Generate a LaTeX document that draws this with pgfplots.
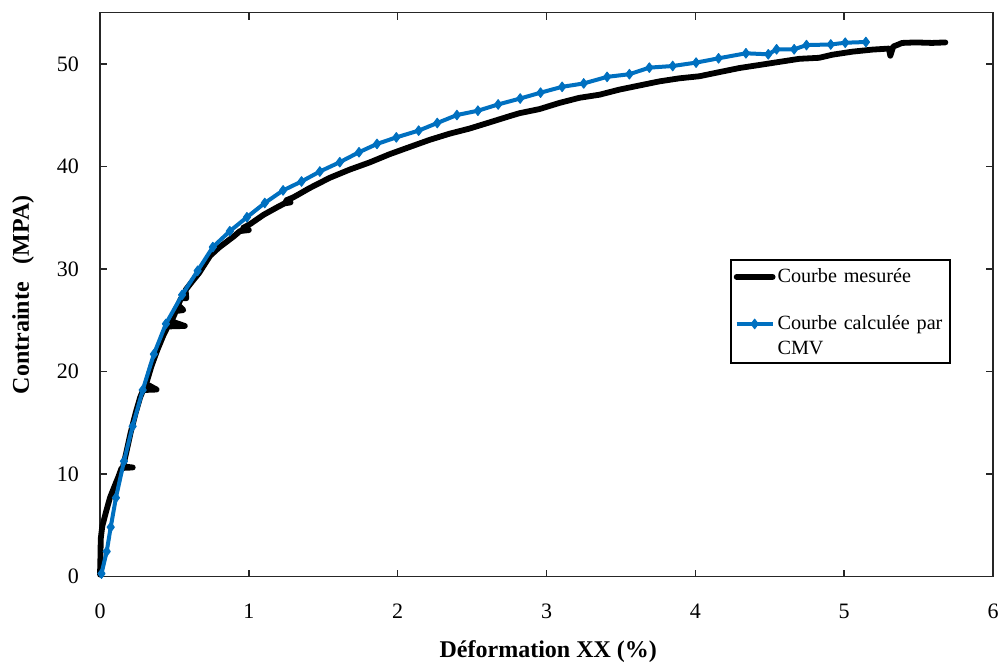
\documentclass[border=0pt]{standalone}
\usepackage{pgfplots}
\pgfplotsset{compat=1.18}
\usepackage{fontspec}
\setmainfont{Liberation Serif}
\definecolor{cmvblue}{RGB}{0,112,192}
\begin{document}
\begin{tikzpicture}
\begin{axis}[
 scale only axis, width=446.5pt, height=282pt,
 xmin=0, xmax=6, ymin=0, ymax=55,
 xtick={0,1,2,3,4,5,6}, ytick={0,10,20,30,40,50},
 tick align=inside, major tick length=3.5pt,
 axis line style={black!85, line width=0.8pt},
 every tick/.style={black!85, line width=0.7pt},
 /pgf/number format/assume math mode=true,
 ticklabel style={font=\fontsize{11}{13}\selectfont},
 xticklabel style={yshift=-10pt},
 yticklabel style={xshift=-7pt},
 xlabel={\textbf{Déformation XX (\%)}},
 ylabel={\textbf{Contrainte \ \ (MPA)}},
 label style={font=\fontsize{12}{14}\selectfont},
 xlabel style={at={(axis description cs:0.502,-0.1335)}, anchor=center},
 ylabel style={at={(axis description cs:-0.0862,0.5)}, anchor=center},
 legend style={at={(rel axis cs:0.707,0.5615)}, anchor=north west,
   draw=none, fill=none, font=\fontsize{10.1}{12.3}\selectfont,
   row sep=13pt, inner xsep=1pt, inner ysep=3pt,
   nodes={align=left, text width=86pt, inner sep=1pt}},
 legend cell align=left,
 legend image code/.code={\draw[mark repeat=2,mark phase=2] plot coordinates {(0pt,0pt)(9pt,0pt)(18pt,0pt)};},
 clip=false,
]
\addplot[black, line width=2.9pt, line join=round, line cap=round] coordinates {
(0,0.2) (0.003,2.0) (0.005,3.7) (0.015,4.9) (0.04,6.3) (0.067,7.7) (0.1,8.9)
(0.125,9.8) (0.145,10.6) (0.22,10.65) (0.155,10.75) (0.178,12.2) (0.205,14.0)
(0.24,16.0) (0.27,17.5) (0.29,18.2) (0.38,18.25) (0.31,18.8) (0.345,20.5)
(0.385,22.1) (0.425,23.5) (0.455,24.4) (0.57,24.45) (0.48,24.9) (0.51,25.9)
(0.56,26.0) (0.525,26.5) (0.545,27.15) (0.58,27.15) (0.575,27.96) (0.62,28.8)
(0.665,29.6) (0.74,31.3) (0.8,32.1) (0.9,33.2) (0.94,33.7) (1.0,33.8)
(0.96,34.0) (1.01,34.4) (1.1,35.3) (1.15,35.7) (1.2,36.1) (1.24,36.4)
(1.28,36.5) (1.25,36.7) (1.3,37.0) (1.409,37.9) (1.544,38.9) (1.678,39.7)
(1.812,40.4) (1.946,41.2) (2.08,41.9) (2.215,42.6) (2.349,43.2) (2.483,43.7)
(2.617,44.3) (2.75,44.9) (2.819,45.2) (2.953,45.6) (3.087,46.2) (3.221,46.7)
(3.356,47.0) (3.49,47.5) (3.624,47.9) (3.758,48.3) (3.893,48.6) (4.027,48.8)
(4.16,49.2) (4.295,49.6) (4.43,49.9) (4.564,50.2) (4.698,50.5) (4.832,50.6)
(4.92,50.9) (5.056,51.2) (5.19,51.4) (5.30,51.5) (5.31,50.8) (5.33,51.7)
(5.39,52.05) (5.48,52.1) (5.59,52.05) (5.68,52.1)
};
\addlegendentry{Courbe mesurée}
\addplot[cmvblue, line width=2pt, line join=round, mark=diamond*, mark size=2.4pt,
  mark options={fill=cmvblue, draw=cmvblue, line width=0.5pt}] coordinates {
(0.01,0.3) (0.045,2.46) (0.072,4.83) (0.107,7.7) (0.161,11.26) (0.219,14.66)
(0.287,18.2) (0.362,21.7) (0.443,24.66) (0.552,27.48) (0.656,29.83)
(0.758,32.14) (0.872,33.69) (0.987,35.05) (1.107,36.44) (1.23,37.67)
(1.354,38.54) (1.477,39.51) (1.611,40.42) (1.74,41.39) (1.861,42.2)
(1.991,42.84) (2.141,43.5) (2.266,44.24) (2.398,45.02) (2.539,45.44)
(2.675,46.05) (2.823,46.63) (2.96,47.2) (3.105,47.77) (3.25,48.1)
(3.407,48.74) (3.557,49.0) (3.691,49.64) (3.848,49.8) (4.005,50.13)
(4.156,50.55) (4.34,51.04) (4.49,50.94) (4.546,51.43) (4.664,51.43)
(4.747,51.84) (4.91,51.9) (5.007,52.07) (5.146,52.14)
};
\addlegendentry{Courbe calculée par CMV}
\draw[black, line width=1pt] (axis description cs:0.707,0.5615) rectangle (axis description cs:0.952,0.379);
\coordinate (bl) at (rel axis cs:-0.112,-0.162);
\coordinate (tr) at (rel axis cs:1.0056,1.0225);
\end{axis}
\pgfresetboundingbox
\path[use as bounding box] (bl) rectangle (tr);
\end{tikzpicture}
\end{document}
